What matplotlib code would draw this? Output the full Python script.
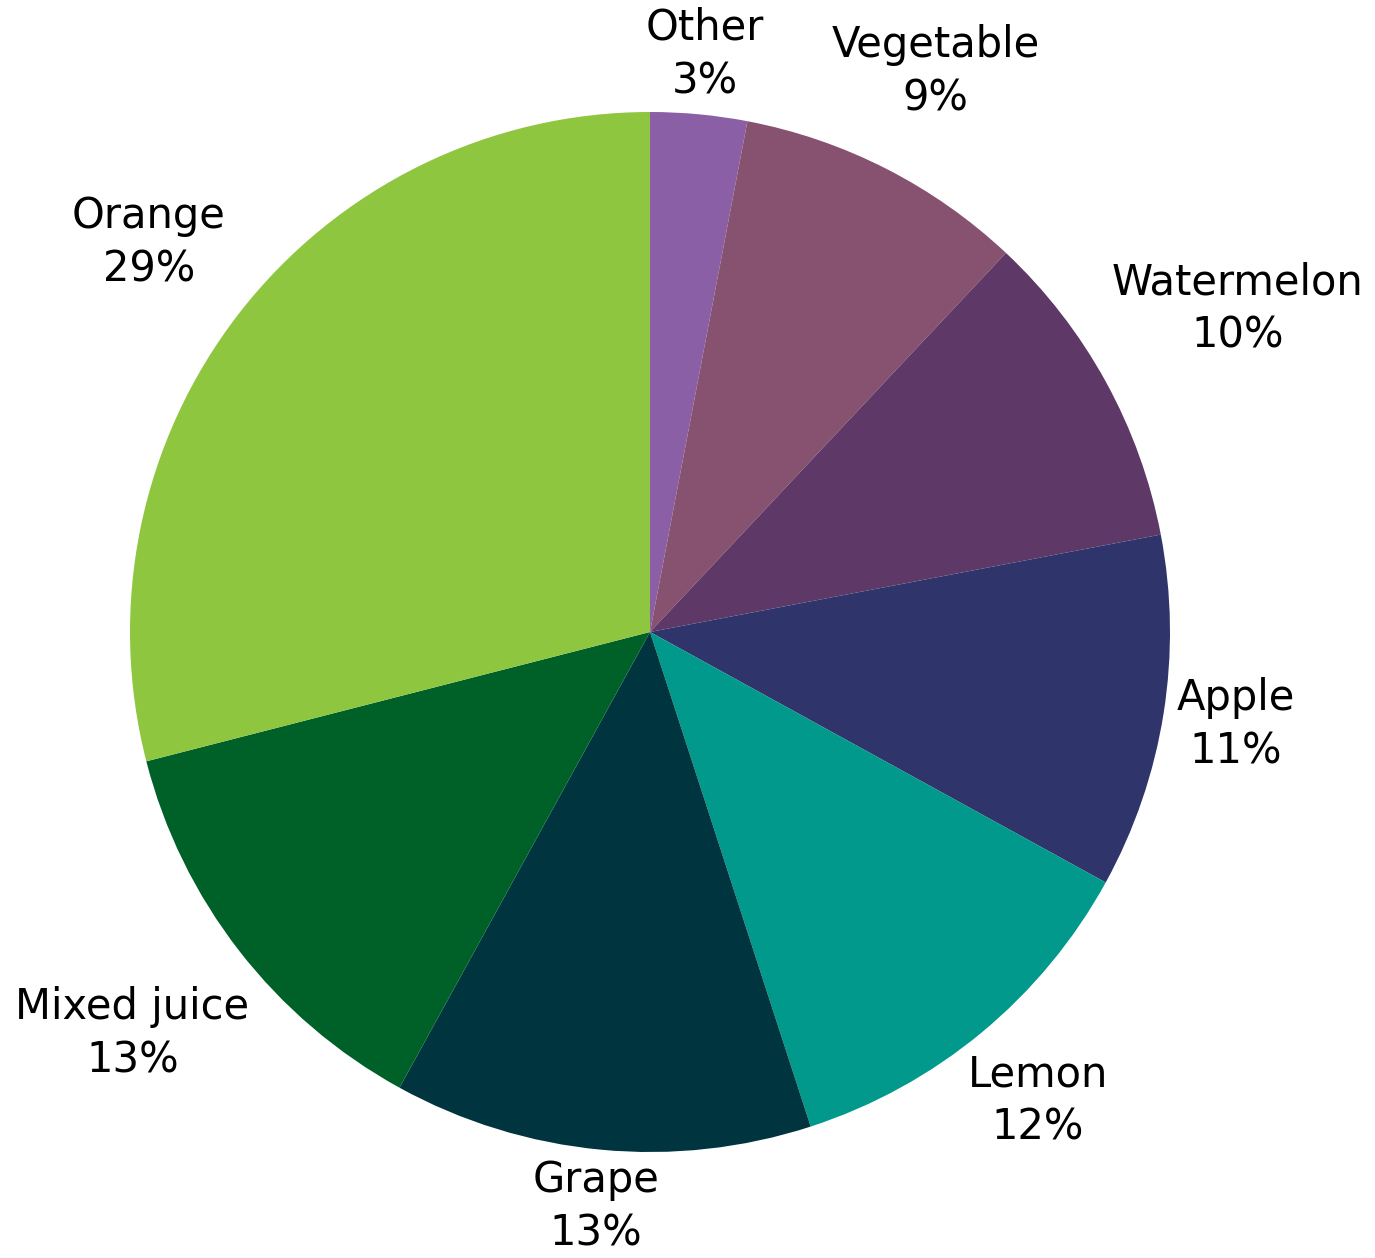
import numpy as np
import matplotlib
matplotlib.use("Agg")
import matplotlib.pyplot as plt

# Juice sales share by flavour, clockwise from 12 o'clock
categories = ["Other", "Vegetable", "Watermelon", "Apple", "Lemon",
              "Grape", "Mixed juice", "Orange"]
shares = [3, 9, 10, 11, 12, 13, 13, 29]
colors = ["#8B5FA6", "#87526F", "#5E3866", "#2F346B", "#01998B",
          "#00343F", "#006128", "#8FC640"]

# label distance from centre, in units of the pie radius
label_radius = [1.115, 1.21, 1.29, 1.14, 1.17, 1.11, 1.26, 1.22]

W, H, DPI = 1375, 1258, 100
cx, cy, R = 650, 632, 520  # pie centre and radius in pixels

fig = plt.figure(figsize=(W / DPI, H / DPI), dpi=DPI)
ax = fig.add_axes([0, 0, 1, 1])

wedges, _ = ax.pie(shares, colors=colors, startangle=90, counterclock=False,
                   radius=1.0, wedgeprops=dict(linewidth=0))

ax.set_xlim(-cx / R, (W - cx) / R)
ax.set_ylim(-(H - cy) / R, cy / R)
ax.set_aspect("equal")
ax.axis("off")

total = sum(shares)
cum = np.cumsum([0] + shares)
for i, (name, val) in enumerate(zip(categories, shares)):
    mid = (cum[i] + val / 2) / total * 2 * np.pi
    # angle measured clockwise from top
    x = label_radius[i] * np.sin(mid)
    y = label_radius[i] * np.cos(mid)
    ax.text(x, y, f"{name}\n{val}%", ha="center", va="center",
            fontsize=30, family=["DejaVu Sans"],
            color="#000000", linespacing=1.35)

fig.savefig("out.png", dpi=DPI)
